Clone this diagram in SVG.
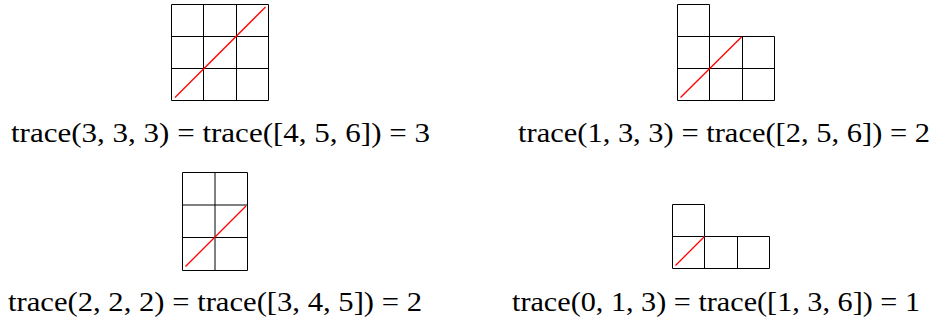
<svg xmlns="http://www.w3.org/2000/svg" width="938" height="321" viewBox="0 0 938 321">
<style>
.g{fill:none;stroke:#000;stroke-width:1}
.r{fill:none;stroke:#ff0000;stroke-width:1.3}
text{font-family:'Liberation Serif','Times New Roman',serif;font-size:28px;fill:#000}
</style>
<rect width="938" height="321" fill="#fff"/>
<g id="d1">
<path class="g" d="M171.5,4.5H268.5V100.5H171.5Z M203.5,4.5V100.5 M236.5,4.5V100.5 M171.5,36.5H268.5 M171.5,68.5H268.5"/>
<path class="r" d="M175,97.5L265.5,7"/>
<text x="11" y="142" textLength="419" lengthAdjust="spacingAndGlyphs" font-family="Liberation Serif, serif">trace(3, 3, 3) = trace([4, 5, 6]) = 3</text>
</g>
<g id="d2">
<path class="g" d="M677.5,4.5H709.5V36.5H677.5Z M677.5,36.5H774.5V100.5H677.5Z M709.5,36.5V100.5 M742.5,36.5V100.5 M677.5,68.5H774.5"/>
<path class="r" d="M680.5,97.5L741.5,37"/>
<text x="518" y="142" textLength="412" lengthAdjust="spacingAndGlyphs" font-family="Liberation Serif, serif">trace(1, 3, 3) = trace([2, 5, 6]) = 2</text>
</g>
<g id="d3">
<path class="g" d="M182.5,172.5H247.5V270.5H182.5Z M215,172.5V270.5 M182.5,205H247.5 M182.5,237.5H247.5"/>
<path class="r" d="M185.5,266.5L246,206"/>
<text x="8" y="311" textLength="414" lengthAdjust="spacingAndGlyphs" font-family="Liberation Serif, serif">trace(2, 2, 2) = trace([3, 4, 5]) = 2</text>
</g>
<g id="d4">
<path class="g" d="M672.5,204.5H704.5V236.5H672.5Z M672.5,236.5H769.5V268.5H672.5Z M704.5,236.5V268.5 M737.5,236.5V268.5"/>
<path class="r" d="M675.5,265.5L704.5,236.5"/>
<text x="512" y="311" textLength="408" lengthAdjust="spacingAndGlyphs" font-family="Liberation Serif, serif">trace(0, 1, 3) = trace([1, 3, 6]) = 1</text>
</g>
</svg>
